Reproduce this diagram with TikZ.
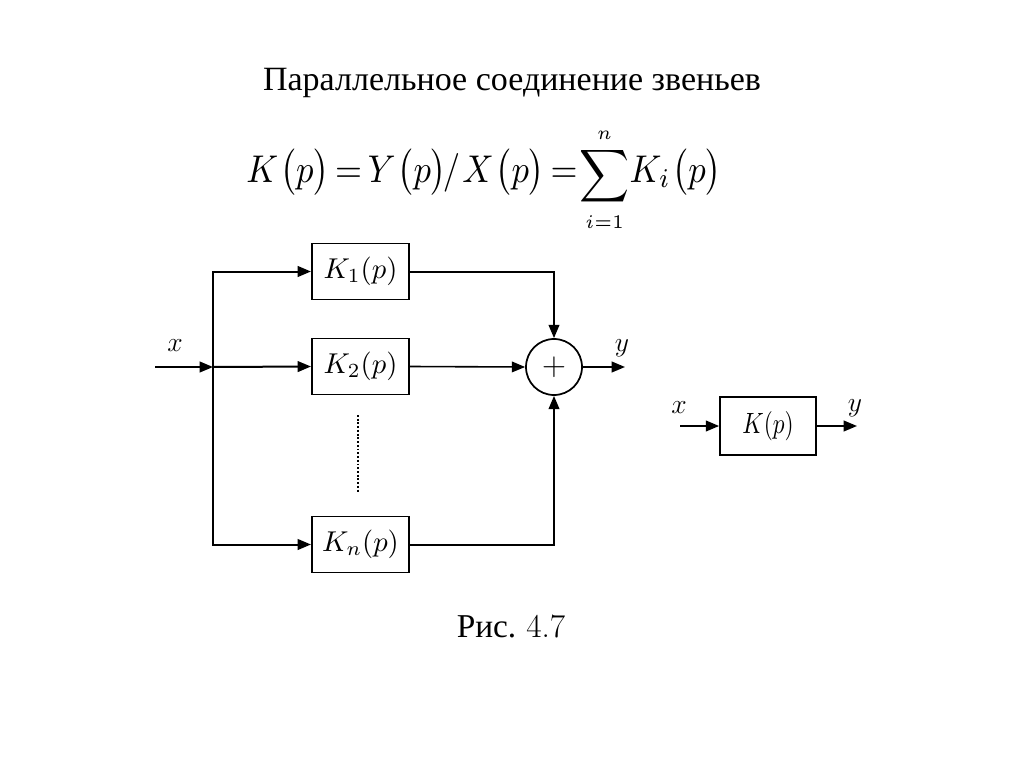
\documentclass[tikz,border=0pt]{standalone}
\usepackage{fontspec}
\newfontfamily\cyr{Liberation Serif}
\usepackage{graphicx}
\usetikzlibrary{arrows.meta}
\begin{document}
\begin{tikzpicture}[x=0.75pt,y=-0.75pt,
  line width=1.5pt,
  arr/.style={-{Triangle[length=10pt,width=8pt]}},
  blk/.style={draw,line width=1.3pt,minimum width=73pt,minimum height=42pt,inner sep=0pt},
  sumc/.style={draw,circle,line width=1.3pt,minimum size=42pt,inner sep=0pt,font=\fontsize{28}{28}\selectfont},
  lbl/.style={font=\fontsize{21}{21}\selectfont,inner sep=0pt}]
\useasboundingbox (0,0) rectangle (1024,767);
% title
\node[anchor=base,inner sep=0pt,font=\fontsize{25.5}{26}\selectfont\cyr] (title) at (512,90) {Параллельное соединение звеньев};
% formula
\node[anchor=base,inner sep=0pt] (formula) at (484,182)
  {\scalebox{2.6}[2.9]{$K\mkern1mu\bigl(p\bigr)\mkern-2mu=\mkern-2mu Y\mkern1mu\bigl(p\bigr)\mkern-2mu/\mkern1mu X\mkern1mu\bigl(p\bigr)\mkern-2mu=\mkern-4mu\mathop{\mbox{\raisebox{-0.2ex}{\scalebox{1.0}[0.95]{$\displaystyle\sum$}}}}\limits^{\mbox{\fontsize{5}{5}\selectfont$n$}}_{\mbox{\fontsize{5}{5}\selectfont$i{=}1$}}\mkern-3mu K_i\mkern1mu\bigl(p\bigr)$}};
% blocks
\node[blk] (k1) at (360.5,271.5) {\scalebox{2.15}{$K_1(p)$}};
\node[blk] (k2) at (360.5,366.5) {\scalebox{2.15}{$K_2(p)$}};
\node[blk] (kn) at (360.5,544.5) {\scalebox{2.15}{$K_n(p)$}};
\node[sumc] (s) at (554,367) {$+$};
\coordinate (in) at (155,367);
\coordinate (j) at (213,367);
\coordinate (out) at (625,367);
\draw[arr] (in) -- (j);
\draw[arr] (j) |- (k1.west);
\draw[arr] (j) -- (k2.west);
\draw[arr] (j) |- (kn.west);
\draw[arr] (k1.east) -| (s.north);
\draw[arr,line width=1.2pt] (k2.east) -- (s.west);
\draw[arr] (kn.east) -| (s.south);
\draw[arr] (s.east) -- (out);
\coordinate (d1) at (358,415);
\coordinate (d2) at (358,493);
\draw[line width=1.7pt,dash pattern=on 1.4pt off 1.4pt] (d1) -- (d2);
\node[lbl] (xl) at (175,346) {$x$};
\node[lbl] (yl) at (622,348) {$y$};
% equivalent block
\node[blk,minimum width=72pt,minimum height=43pt] (k) at (768,426) {\scalebox{1.75}[2.2]{$K(p)$}};
\coordinate (kin) at (680,426);
\coordinate (kout) at (857,426);
\draw[arr] (kin) -- (k.west);
\draw[arr] (k.east) -- (kout);
\node[lbl] (xl2) at (679,408) {$x$};
\node[lbl] (yl2) at (855,408) {$y$};
% caption
\node[anchor=base,inner sep=0pt,font=\fontsize{25}{25}\selectfont] (cap) at (511,637) {{\cyr Рис.}~4.7};
\end{tikzpicture}
\end{document}
